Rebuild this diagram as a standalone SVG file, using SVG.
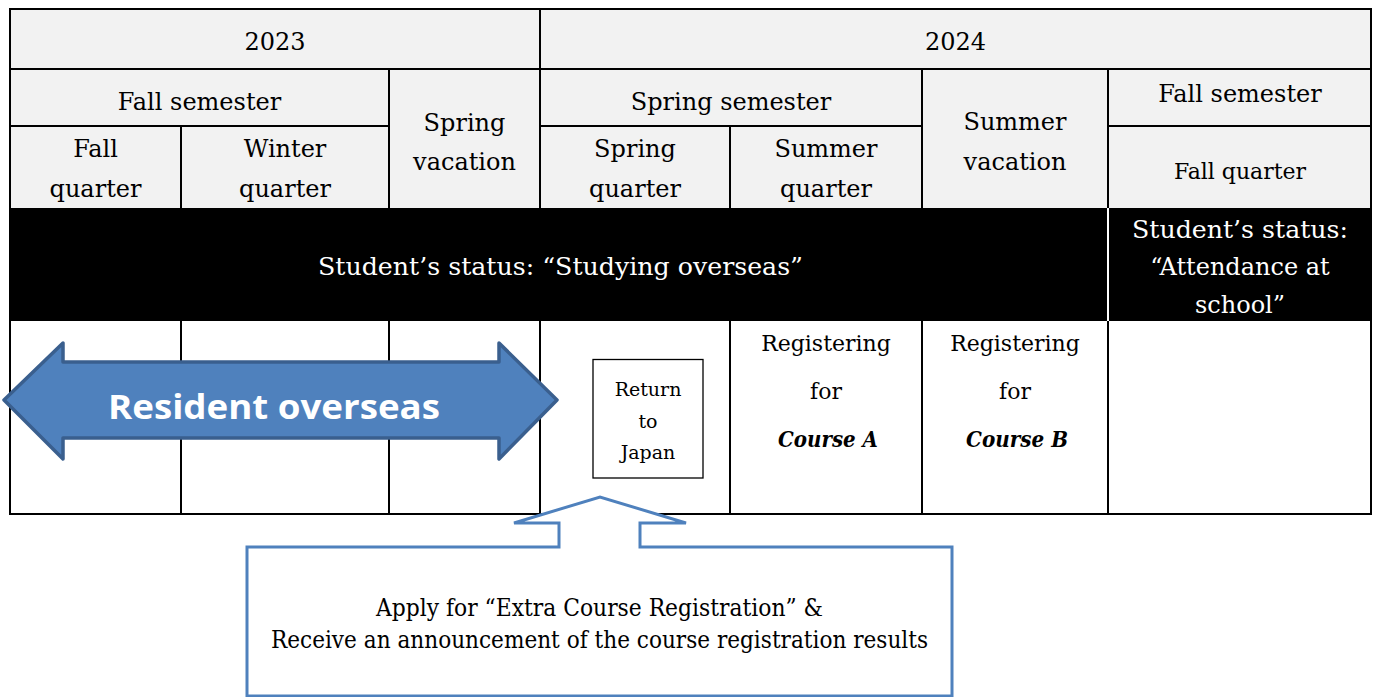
<svg xmlns="http://www.w3.org/2000/svg" width="1376" height="697" viewBox="0 0 1376 697">
<style>
.t{font-family:"DejaVu Serif","Liberation Serif",serif;font-size:24px;fill:#000;text-anchor:middle}
.w{fill:#fff}
.s22{font-size:22px}
.s19{font-size:19px}
.ln{stroke:#000;stroke-width:2;fill:none}
.ci{font-weight:bold;font-style:italic}
</style>
<rect width="1376" height="697" fill="#fff"/>
<g id="table">
  <rect x="10" y="9" width="1361" height="199" fill="#f2f2f2"/>
  <rect x="10" y="208" width="1361" height="113" fill="#000"/>
  <line x1="1108" y1="208" x2="1108" y2="321" stroke="#fff" stroke-width="2"/>
  <rect class="ln" x="10" y="9" width="1361" height="505"/>
  <path class="ln" d="M10 69H1371M10 126H389M540 126H922M1108 126H1371M540 9V208M389 69V208M181 126V208M730 126V208M922 69V208M1108 69V208M181 321V514M389 321V514M540 321V514M730 321V514M922 321V514M1108 321V514"/>
</g>
<g id="header-2023"><text class="t" x="275" y="50">2023</text></g>
<g id="header-2024"><text class="t" x="955.5" y="50">2024</text></g>
<g id="fall-semester-2023"><text class="t" x="199.5" y="110">Fall semester</text></g>
<g id="spring-vacation"><text class="t" x="464.5" y="131">Spring</text><text class="t" x="464.5" y="170">vacation</text></g>
<g id="spring-semester"><text class="t" x="731" y="110">Spring semester</text></g>
<g id="summer-vacation"><text class="t" x="1015" y="130">Summer</text><text class="t" x="1015" y="170">vacation</text></g>
<g id="fall-semester-2024"><text class="t" x="1240" y="102">Fall semester</text></g>
<g id="fall-quarter-2023"><text class="t" x="95.5" y="157">Fall</text><text class="t" x="95.5" y="197">quarter</text></g>
<g id="winter-quarter"><text class="t" x="285" y="157">Winter</text><text class="t" x="285" y="197">quarter</text></g>
<g id="spring-quarter"><text class="t" x="635" y="157">Spring</text><text class="t" x="635" y="197">quarter</text></g>
<g id="summer-quarter"><text class="t" x="826" y="157">Summer</text><text class="t" x="826" y="197">quarter</text></g>
<g id="fall-quarter-2024"><text class="t s22" x="1240" y="179">Fall quarter</text></g>
<g id="status-overseas"><text class="t w" x="560.5" y="275" textLength="485" lengthAdjust="spacingAndGlyphs">Student’s status: “Studying overseas”</text></g>
<g id="status-attendance">
  <text class="t w" x="1240" y="238" textLength="216" lengthAdjust="spacingAndGlyphs">Student’s status:</text>
  <text class="t w" x="1240" y="275">“Attendance at</text>
  <text class="t w" x="1240" y="313">school”</text>
</g>
<g id="resident-overseas">
  <path d="M4 400L63 343V362H499V343L557 400L499 459V438H63V459Z" fill="#4f81bd" stroke="#3a5f8e" stroke-width="3.5" stroke-linejoin="round"/>
  <text x="274" y="419" text-anchor="middle" font-family="'Open Sans','Noto Sans',sans-serif" font-weight="bold" font-size="34" fill="#fff" textLength="332" lengthAdjust="spacingAndGlyphs">Resident overseas</text>
</g>
<g id="return-to-japan">
  <rect x="593" y="359.5" width="110" height="118.5" fill="#fff" stroke="#000" stroke-width="1.3"/>
  <text class="t s19" x="648" y="396">Return</text>
  <text class="t s19" x="648" y="428">to</text>
  <text class="t s19" x="648" y="459">Japan</text>
</g>
<g id="course-a">
  <text class="t s22" x="826" y="351">Registering</text>
  <text class="t s22" x="826" y="399">for</text>
  <text class="t s22 ci" x="828" y="447" textLength="100" lengthAdjust="spacingAndGlyphs">Course A</text>
</g>
<g id="course-b">
  <text class="t s22" x="1015" y="351">Registering</text>
  <text class="t s22" x="1015" y="399">for</text>
  <text class="t s22 ci" x="1017" y="447" textLength="102" lengthAdjust="spacingAndGlyphs">Course B</text>
</g>
<g id="callout">
  <path d="M247 547H559V523H514L600 497L686 523H640V547H952V696H247Z" fill="#fff" stroke="#4f81bd" stroke-width="3" stroke-linejoin="miter"/>
  <text class="t" font-size="21" x="599.5" y="616" textLength="447" lengthAdjust="spacingAndGlyphs">Apply for “Extra Course Registration” &amp;</text>
  <text class="t" font-size="21" x="599.5" y="648" textLength="657" lengthAdjust="spacingAndGlyphs">Receive an announcement of the course registration results</text>
</g>
<g id="connectors"></g>
</svg>
